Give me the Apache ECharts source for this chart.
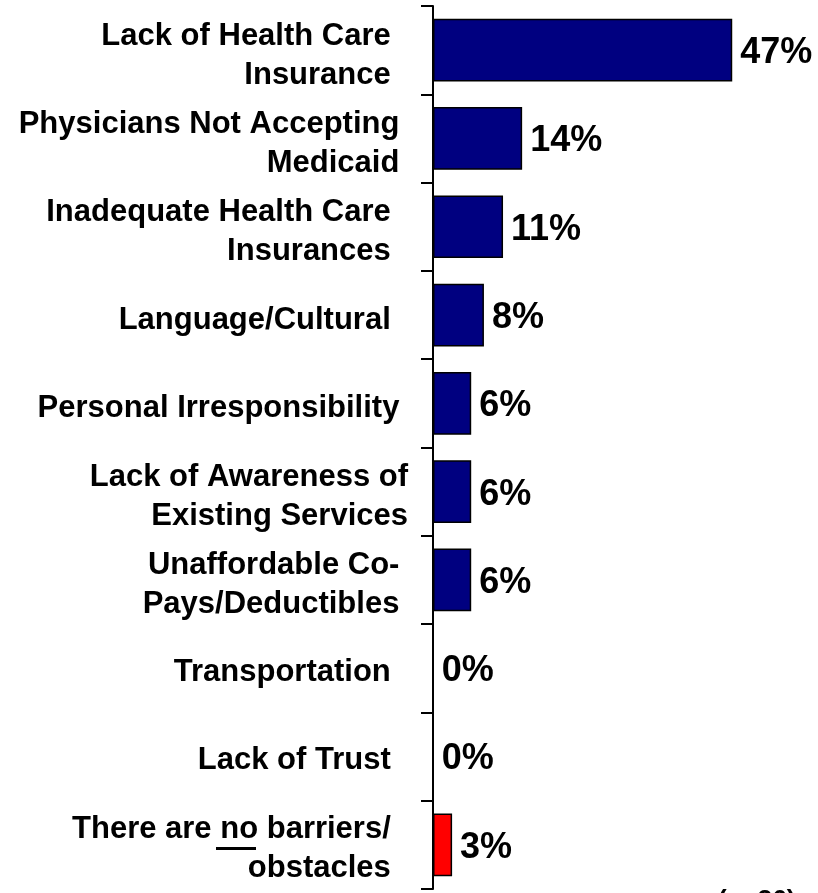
<!DOCTYPE html>
<html>
<head>
<meta charset="utf-8">
<script src="https://cdn.jsdelivr.net/npm/echarts@6/dist/echarts.min.js"></script>
<style>
html,body{margin:0;padding:0;background:#fff;}
#chart{width:818px;height:893px;}
</style>
</head>
<body>
<div id="chart"></div>
<script>
var categories = [
  "Lack of Health Care  \nInsurance  ",
  "Physicians Not Accepting \nMedicaid ",
  "Inadequate Health Care  \nInsurances  ",
  "Language/Cultural  ",
  "Personal Irresponsibility ",
  "Lack of Awareness of\nExisting Services",
  "Unaffordable Co- \nPays/Deductibles ",
  "Transportation  ",
  "Lack of Trust  ",
  "There are no barriers/  \nobstacles  "
];
var values = [47, 14, 11, 8, 6, 6, 6, 0, 0, 3];
var barColors = ["#000080", "#000080", "#000080", "#000080", "#000080", "#000080", "#000080", "#000080", "#000080", "#FF0000"];
var sampleNote = "(n=36)";

var chart = echarts.init(document.getElementById('chart'), null, {renderer: 'canvas'});
var font = 'Liberation Sans, Arial, sans-serif';
chart.setOption({
  animation: false,
  backgroundColor: '#ffffff',
  grid: [
    {left: 433, right: 3, top: 6, bottom: 4, containLabel: false},
    {left: 433, right: 3, top: 12, bottom: -2, containLabel: false}
  ],
  xAxis: [
    {gridIndex: 0, type: 'value', min: 0, max: 60, show: false},
    {gridIndex: 1, type: 'value', min: 0, max: 60, show: false}
  ],
  yAxis: [
    {
      gridIndex: 0,
      type: 'category',
      inverse: true,
      data: categories,
      axisLine: {show: true, lineStyle: {color: '#000', width: 2}},
      axisTick: {show: true, length: 12, lineStyle: {color: '#000', width: 2}},
      axisLabel: {show: false},
      splitLine: {show: false}
    },
    {
      gridIndex: 1,
      type: 'category',
      inverse: true,
      data: categories,
      axisLine: {show: false},
      axisTick: {show: false},
      splitLine: {show: false},
      axisLabel: {
        interval: 0,
        margin: 25,
        color: '#000',
        fontFamily: font,
        fontWeight: 'bold',
        fontSize: 31,
        lineHeight: 39,
        align: 'right'
      }
    }
  ],
  series: [{
    type: 'bar',
    xAxisIndex: 0,
    yAxisIndex: 0,
    barCategoryGap: '29%',
    data: values.map(function (v, i) {
      return {value: v, itemStyle: {color: barColors[i]}};
    }),
    itemStyle: {borderColor: '#000', borderWidth: 1.5},
    label: {
      show: true,
      position: 'right',
      distance: 8,
      offset: [0, 3],
      formatter: '{c}%',
      color: '#000',
      fontFamily: font,
      fontWeight: 'bold',
      fontSize: 36
    }
  }],
  graphic: [
    {
      type: 'rect',
      shape: {x: 216, y: 847, width: 40, height: 3},
      style: {fill: '#000'}
    },
    {
      type: 'text',
      x: 718, y: 888,
      style: {text: sampleNote, font: 'bold 26px Liberation Sans, Arial, sans-serif', fill: '#000', textVerticalAlign: 'top'}
    }
  ]
});
</script>
</body>
</html>
